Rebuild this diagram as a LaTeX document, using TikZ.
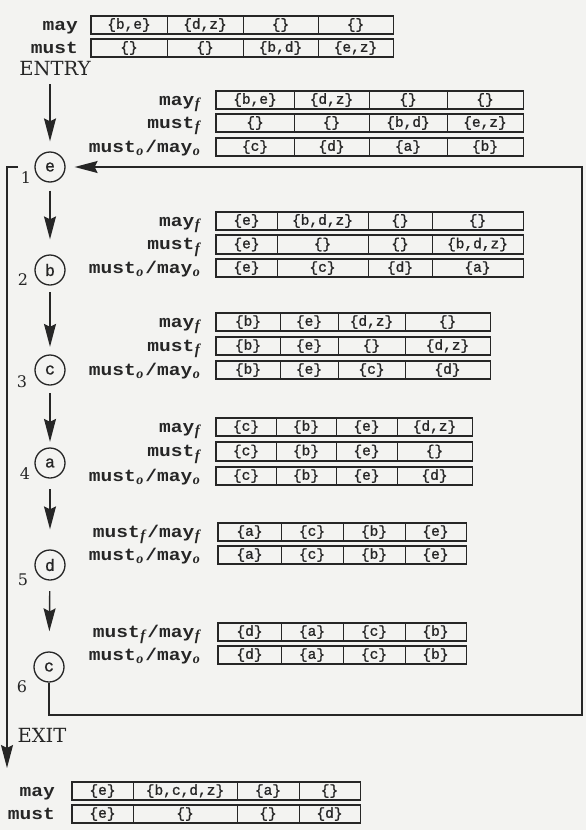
\documentclass[tikz,border=0pt]{standalone}
\usepackage{fontspec}
\setmainfont{DejaVu Serif}
\newfontfamily\monofont{Liberation Mono}[FakeBold=1.2]
\newfontfamily\labmono{Liberation Mono}[FakeStretch=1.15]
\newfontfamily\subfont{Liberation Serif}
\usetikzlibrary{arrows.meta}
\definecolor{ink}{RGB}{38,38,38}
\definecolor{paper}{RGB}{243,243,241}
\newcommand\cellfont{\monofont\fontsize{14.5}{15}\selectfont}
\newcommand\labfont{\labmono\bfseries\fontsize{17}{17}\selectfont}
\newcommand\numfont{\fontsize{16}{16}\selectfont}
\newcommand\bigfont{\fontsize{19.5}{19.5}\selectfont}
\newcommand\subf{\kern0.5pt\raisebox{-3.5pt}{\subfont\fontsize{15}{15}\selectfont\itshape f}\kern2pt}
\newcommand\subo{\kern0.5pt\raisebox{-3pt}{\subfont\fontsize{14}{14}\selectfont\itshape o}\kern2pt}
\newcommand\crow[3]{%
  \foreach \xa/\xb/\txt [count=\k] in {#3}{%
    \node[cellbox, minimum width={(\xb-\xa)*1pt}] (#1\k) at ({(\xa+\xb)/2},#2) {\txt};
  }%
  \draw[rowborder] (#11.north west) rectangle (#14.south east);
}
\begin{document}
\begin{tikzpicture}[x=1pt,y=-1pt,
  cellbox/.style={draw=ink, line width=1pt, minimum height=17.5pt, inner sep=0pt, text=ink, font=\cellfont},
  rowborder/.style={draw=ink, line width=1.6pt},
  lab/.style={anchor=base east, inner sep=0pt, text=ink, font=\labfont},
  circ/.style={circle, draw=ink, line width=1.3pt, minimum size=30pt, inner sep=0pt, text=ink, font=\monofont\fontsize{16.5}{16.5}\selectfont},
  num/.style={inner sep=0pt, text=ink, font=\numfont},
  big/.style={inner sep=0pt, text=ink, font=\bigfont},
  flow/.style={draw=ink, line width=1.4pt, -{Stealth[length=23pt,width=12pt,inset=3pt]}},
]
\fill[paper] (0,0) rectangle (586,830);
\useasboundingbox (0,0) rectangle (586,830);

% ENTRY data
\node[lab] (l1a) at (78,30) {may};
\node[lab] (l1b) at (78,53) {must};
\crow{ga}{25}{91/167/{\{b,e\}},167/243/{\{d,z\}},243/318/{\{\}},318/393/{\{\}}}
\crow{gb}{48}{91/167/{\{\}},167/243/{\{\}},243/318/{\{b,d\}},318/393/{\{e,z\}}}
\node[big] (entry) at (55,69) {ENTRY};

% group before e
\node[lab] (l2a) at (202,105) {may\subf};
\node[lab] (l2b) at (202,128) {must\subf};
\node[lab] (l2c) at (202,152) {must\subo/may\subo};
\crow{gc}{100}{216/294/{\{b,e\}},294/369/{\{d,z\}},369/447/{\{\}},447/523/{\{\}}}
\crow{gd}{123}{216/294/{\{\}},294/369/{\{\}},369/447/{\{b,d\}},447/523/{\{e,z\}}}
\crow{ge}{147}{216/294/{\{c\}},294/369/{\{d\}},369/447/{\{a\}},447/523/{\{b\}}}

% group before b
\node[lab] (l3a) at (202,226) {may\subf};
\node[lab] (l3b) at (202,249.5) {must\subf};
\node[lab] (l3c) at (202,273) {must\subo/may\subo};
\crow{gf}{221}{216/277/{\{e\}},277/368/{\{b,d,z\}},368/432/{\{\}},432/523/{\{\}}}
\crow{gg}{244.5}{216/277/{\{e\}},277/368/{\{\}},368/432/{\{\}},432/523/{\{b,d,z\}}}
\crow{gh}{268}{216/277/{\{e\}},277/368/{\{c\}},368/432/{\{d\}},432/523/{\{a\}}}

% group before c (3)
\node[lab] (l4a) at (202,327) {may\subf};
\node[lab] (l4b) at (202,351) {must\subf};
\node[lab] (l4c) at (202,375) {must\subo/may\subo};
\crow{gi}{322}{216/280/{\{b\}},280/338/{\{e\}},338/405/{\{d,z\}},405/490/{\{\}}}
\crow{gj}{346}{216/280/{\{b\}},280/338/{\{e\}},338/405/{\{\}},405/490/{\{d,z\}}}
\crow{gk}{370}{216/280/{\{b\}},280/338/{\{e\}},338/405/{\{c\}},405/490/{\{d\}}}

% group before a
\node[lab] (l5a) at (202,432) {may\subf};
\node[lab] (l5b) at (202,456.5) {must\subf};
\node[lab] (l5c) at (202,481) {must\subo/may\subo};
\crow{gl}{427}{216/276/{\{c\}},276/336/{\{b\}},336/397/{\{e\}},397/472/{\{d,z\}}}
\crow{gm}{451.5}{216/276/{\{c\}},276/336/{\{b\}},336/397/{\{e\}},397/472/{\{\}}}
\crow{gn}{476}{216/276/{\{c\}},276/336/{\{b\}},336/397/{\{e\}},397/472/{\{d\}}}

% group before d
\node[lab] (l6a) at (202,537) {must\subf/may\subf};
\node[lab] (l6b) at (202,560) {must\subo/may\subo};
\crow{go}{532}{218/281/{\{a\}},281/343/{\{c\}},343/405/{\{b\}},405/466/{\{e\}}}
\crow{gp}{555}{218/281/{\{a\}},281/343/{\{c\}},343/405/{\{b\}},405/466/{\{e\}}}

% group before c (6)
\node[lab] (l7a) at (202,637) {must\subf/may\subf};
\node[lab] (l7b) at (202,660) {must\subo/may\subo};
\crow{gq}{632}{218/281/{\{d\}},281/343/{\{a\}},343/405/{\{c\}},405/466/{\{b\}}}
\crow{gr}{655}{218/281/{\{d\}},281/343/{\{a\}},343/405/{\{c\}},405/466/{\{b\}}}

% EXIT data
\node[big] (exit) at (42,735) {EXIT};
\node[lab] (l8a) at (55,796) {may};
\node[lab] (l8b) at (55,819) {must};
\crow{gs}{791}{72/133/{\{e\}},133/237/{\{b,c,d,z\}},237/299/{\{a\}},299/360/{\{\}}}
\crow{gt}{814}{72/133/{\{e\}},133/237/{\{\}},237/299/{\{\}},299/360/{\{d\}}}

% flow graph nodes
\node[circ] (e)  at (50,167) {e};
\node[circ] (b)  at (50,270) {b};
\node[circ] (c3) at (50,370) {c};
\node[circ] (a)  at (50,463) {a};
\node[circ] (d)  at (50,565) {d};
\node[circ] (c6) at (49,667) {c};
\node[num] (n1) at (26,178) {1};
\node[num] (n2) at (23,280) {2};
\node[num] (n3) at (22,382) {3};
\node[num] (n4) at (25,474) {4};
\node[num] (n5) at (23,580) {5};
\node[num] (n6) at (22,687) {6};

% connectors
\draw[flow, shorten <=8pt, shorten >=10pt] (entry.south -| e) -- (e.north);
\draw[flow, shorten <=8pt, shorten >=15pt] (e) -- (b);
\draw[flow, shorten <=6.5pt, shorten >=7.5pt] (b) -- (c3);
\draw[flow, shorten <=7.5pt, shorten >=5.5pt] (c3) -- (a);
\draw[flow, shorten <=10.5pt, shorten >=20pt] (a) -- (d);
\draw[flow, shorten <=10.5pt, shorten >=20pt] (d) -- (c6);

\coordinate (loopbl) at (49,715);
\coordinate (looptr) at (582,167);
\draw[flow, shorten >=9pt] (c6.south) -- (loopbl) -| (looptr) -- (e.east);

\coordinate (exs) at (18,167);
\coordinate (exc) at (7,167);
\coordinate (exe) at (7,768);
\draw[flow] (exs) -- (exc) -- (exe);
\end{tikzpicture}
\end{document}
